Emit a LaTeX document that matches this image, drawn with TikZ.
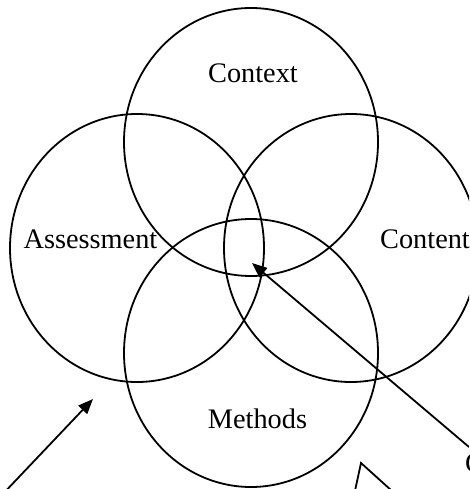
\documentclass[tikz,border=0pt]{standalone}
\usepackage{fontspec}
\setmainfont{Liberation Serif}
\usetikzlibrary{shapes.geometric,arrows.meta}
\tikzset{
  ring/.style={draw, ellipse, line width=1.8pt, minimum width=254pt, minimum height=268pt, inner sep=0pt},
  lbl/.style={inner sep=0pt, font=\fontsize{28.3}{34}\selectfont},
  pointer/.style={line width=1.8pt, -{Triangle[length=15pt,width=12pt]}},
  callout/.style={line width=1.8pt}
}
\begin{document}
\begin{tikzpicture}[x=1pt,y=-1pt]
\useasboundingbox (0,0) rectangle (469,489);
\clip (0,0) rectangle (469,489);
\node[ring] (ctxr) at (251,142) {};
\node[ring] (assr) at (137,248) {};
\node[ring] (conr) at (351,248) {};
\node[ring] (metr) at (251,353) {};
\node[lbl, anchor=base] (ctx) at (253,83) {Context};
\node[lbl, anchor=base] (ass) at (90.5,248) {Assessment};
\node[lbl, anchor=base west] (con) at (380,248) {Content};
\node[lbl, anchor=base] (met) at (257.5,428) {Methods};
\node[lbl, anchor=base west] (cl) at (465,472) {C};
\coordinate (a1s) at (0,497);
\coordinate (a1e) at (93,399);
\coordinate (a2s) at (469,447);
\coordinate (a2e) at (252,263);
\draw[pointer] (a1s) -- (a1e);
\draw[pointer] (a2s) -- (a2e);
\coordinate (cbl) at (353,500);
\coordinate (cap) at (361,463);
\coordinate (cbr) at (402,500);
\draw[callout, line join=miter] (cbl) -- (cap) -- (cbr);
\end{tikzpicture}
\end{document}
